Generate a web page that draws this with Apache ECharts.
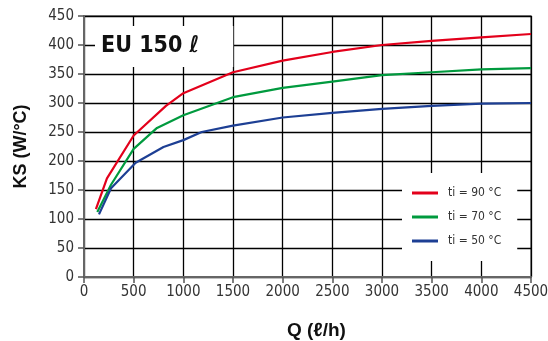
<!DOCTYPE html>
<html>
<head>
<meta charset="utf-8">
<script src="https://cdn.jsdelivr.net/npm/echarts@6/dist/echarts.min.js"></script>
<style>
  html, body { margin: 0; padding: 0; background: #fff; }
  #chart { width: 548px; height: 341px; }
</style>
</head>
<body>
<div id="chart"></div>
<script>
// Flow rate Q (l/h) against heat transfer coefficient KS (W/°C)
const ti90 = [[120, 117], [231, 170], [500, 244], [825, 295], [1000, 317], [1500, 353], [2000, 373], [2500, 388], [3000, 400], [3500, 407], [4000, 413], [4500, 419]];
const ti70 = [[134, 112], [272, 159], [500, 221], [735, 257], [1000, 279], [1500, 310], [2000, 326], [2500, 337], [3000, 348], [3500, 353], [4000, 358], [4500, 360]];
const ti50 = [[151, 108], [272, 153], [520, 197], [800, 224], [1000, 236], [1185, 250], [1500, 261], [2000, 275], [2500, 283], [3000, 290], [3500, 295], [4000, 299], [4500, 300]];
const seriesNames = ['ti = 90 °C', 'ti = 70 °C', 'ti = 50 °C'];
const colors = ['#e3001b', '#009a3e', '#1d3f94'];

const font = "'Liberation Sans Narrow', 'DejaVu Sans Condensed', sans-serif";
const boldFont = "'Liberation Sans', Arial, sans-serif";

const chart = echarts.init(document.getElementById('chart'), null, { renderer: 'canvas' });

function line(name, data, color) {
  return {
    name, type: 'line', data, symbol: 'none', smooth: false,
    lineStyle: { color, width: 2.2 }, itemStyle: { color }, z: 3
  };
}

chart.setOption({
  animation: false,
  title: {
    text: 'EU 150 ℓ',
    left: 95, top: 26,
    padding: [9, 34, 9, 6],
    backgroundColor: '#fff',
    textStyle: { fontFamily: font, fontWeight: 'bold', fontSize: 23, color: '#111', lineHeight: 23 }
  },
  legend: {
    data: seriesNames,
    left: 402, top: 173,
    orient: 'vertical',
    backgroundColor: '#fff',
    padding: [13, 16, 13, 10],
    itemGap: 10,
    itemWidth: 26, itemHeight: 3,
    icon: 'rect',
    textStyle: { fontFamily: font, fontSize: 12, color: '#333', lineHeight: 14, padding: [0, 0, 0, 5] }
  },
  grid: {
    left: 84, right: 17, top: 16, bottom: 64,
    outerBoundsMode: 'none',
    show: true, borderColor: '#666', borderWidth: 1.5
  },
  xAxis: {
    type: 'value', min: 0, max: 4500, interval: 500,
    name: 'Q (ℓ/h)', nameLocation: 'middle', nameGap: 44,
    nameTextStyle: { fontFamily: boldFont, fontWeight: 'bold', fontSize: 19, color: '#111', padding: [0, 0, 0, 18] },
    axisLine: { show: true, lineStyle: { color: '#666', width: 2 } },
    axisTick: { show: true, length: 6, lineStyle: { color: '#555', width: 1.5 } },
    axisLabel: { fontFamily: font, fontSize: 15, color: '#333', margin: 8, formatter: v => String(v) },
    splitLine: { show: true, lineStyle: { color: '#000', width: 1.3 } }
  },
  yAxis: {
    type: 'value', min: 0, max: 450, interval: 50,
    name: 'KS (W/°C)', nameLocation: 'middle', nameGap: 54, nameRotate: 90,
    nameTextStyle: { fontFamily: boldFont, fontWeight: 'bold', fontSize: 18, color: '#111' },
    axisLine: { show: true, lineStyle: { color: '#666', width: 2 } },
    axisTick: { show: true, length: 6, lineStyle: { color: '#555', width: 1.5 } },
    axisLabel: { fontFamily: font, fontSize: 15, color: '#333', margin: 10, formatter: v => String(v) },
    splitLine: { show: true, lineStyle: { color: '#000', width: 1.3 } }
  },
  series: [
    line(seriesNames[0], ti90, colors[0]),
    line(seriesNames[1], ti70, colors[1]),
    line(seriesNames[2], ti50, colors[2])
  ]
});
</script>
</body>
</html>
